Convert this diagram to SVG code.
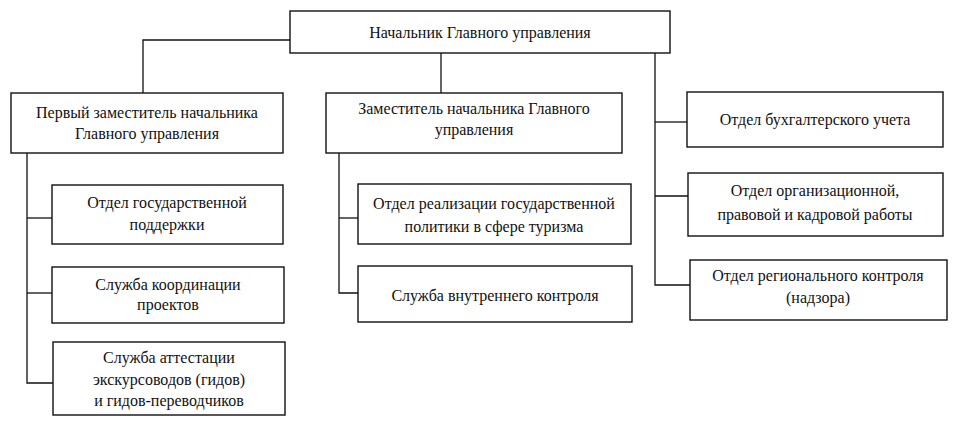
<svg xmlns="http://www.w3.org/2000/svg" width="956" height="427" viewBox="0 0 956 427">
<style>
.box{fill:#fff;stroke:#111;stroke-width:1.4}
.ln{fill:none;stroke:#111;stroke-width:1.3}
text{font-family:"Liberation Serif","DejaVu Serif",serif;font-size:16px;fill:#111;text-anchor:middle}
</style>
<rect width="956" height="427" fill="#fff"/>
<g id="connectors">
<polyline class="ln" points="290,40 143,40 143,93"/>
<line class="ln" x1="441" y1="53" x2="441" y2="93"/>
<polyline class="ln" points="655,53 655,285 690,285"/>
<line class="ln" x1="655" y1="122" x2="687" y2="122"/>
<line class="ln" x1="655" y1="196" x2="688" y2="196"/>
<polyline class="ln" points="27,153 27,383 53,383"/>
<line class="ln" x1="27" y1="218" x2="52" y2="218"/>
<line class="ln" x1="27" y1="293" x2="52" y2="293"/>
<polyline class="ln" points="339,153 339,293 358,293"/>
<line class="ln" x1="339" y1="218" x2="358" y2="218"/>
</g>
<g id="head">
<rect class="box" x="290" y="11" width="380" height="42"/>
<text x="480" y="38">Начальник Главного управления</text>
</g>
<g id="deputy1">
<rect class="box" x="11" y="93" width="272" height="60"/>
<text x="147" y="118">Первый заместитель начальника</text>
<text x="147" y="139">Главного управления</text>
</g>
<g id="deputy2">
<rect class="box" x="326" y="93" width="296" height="60"/>
<text x="474" y="114">Заместитель начальника Главного</text>
<text x="474" y="135">управления</text>
</g>
<g id="accounting">
<rect class="box" x="687" y="92" width="256" height="55"/>
<text x="815" y="125">Отдел бухгалтерского учета</text>
</g>
<g id="org">
<rect class="box" x="688" y="173" width="255" height="63"/>
<text x="815" y="196">Отдел организационной,</text>
<text x="815" y="220">правовой и кадровой работы</text>
</g>
<g id="regional">
<rect class="box" x="690" y="260" width="257" height="60"/>
<text x="818" y="281">Отдел регионального контроля</text>
<text x="818" y="303">(надзора)</text>
</g>
<g id="gossupport">
<rect class="box" x="52" y="185" width="231" height="59"/>
<text x="167" y="208">Отдел государственной</text>
<text x="167" y="230">поддержки</text>
</g>
<g id="coordination">
<rect class="box" x="52" y="267" width="232" height="56"/>
<text x="168" y="290">Служба координации</text>
<text x="168" y="310">проектов</text>
</g>
<g id="attestation">
<rect class="box" x="53" y="342" width="232" height="73"/>
<text x="169" y="363">Служба аттестации</text>
<text x="169" y="385">экскурсоводов (гидов)</text>
<text x="169" y="406">и гидов-переводчиков</text>
</g>
<g id="tourism">
<rect class="box" x="358" y="184" width="273" height="60"/>
<text x="494" y="209">Отдел реализации государственной</text>
<text x="494" y="232">политики в сфере туризма</text>
</g>
<g id="internal">
<rect class="box" x="358" y="266" width="274" height="56"/>
<text x="495" y="301">Служба внутреннего контроля</text>
</g>
</svg>
